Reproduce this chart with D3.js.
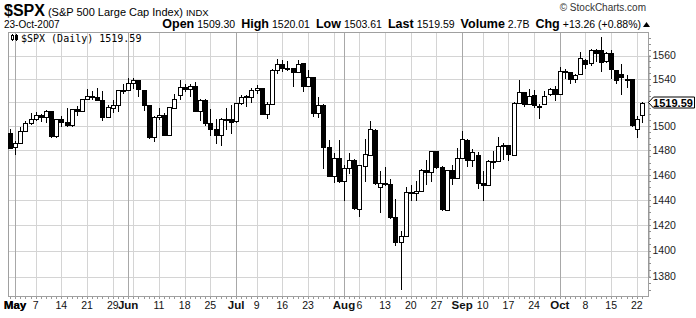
<!DOCTYPE html>
<html>
<head>
<meta charset="utf-8">
<script src="https://cdn.jsdelivr.net/npm/d3@7"></script>
<style>
  body { margin: 0; background: #fff; }
  svg { display: block; font-family: "Liberation Sans", Arial, sans-serif; }
</style>
</head>
<body>
<script>
// trading days shown, Apr 30 to Oct 23 2007
const dates = [
  "2007-04-30",
  "2007-05-01","2007-05-02","2007-05-03","2007-05-04","2007-05-07","2007-05-08","2007-05-09","2007-05-10","2007-05-11",
  "2007-05-14","2007-05-15","2007-05-16","2007-05-17","2007-05-18","2007-05-21","2007-05-22","2007-05-23","2007-05-24",
  "2007-05-25","2007-05-29","2007-05-30","2007-05-31",
  "2007-06-01","2007-06-04","2007-06-05","2007-06-06","2007-06-07","2007-06-08","2007-06-11","2007-06-12","2007-06-13",
  "2007-06-14","2007-06-15","2007-06-18","2007-06-19","2007-06-20","2007-06-21","2007-06-22","2007-06-25","2007-06-26",
  "2007-06-27","2007-06-28","2007-06-29",
  "2007-07-02","2007-07-03","2007-07-05","2007-07-06","2007-07-09","2007-07-10","2007-07-11","2007-07-12","2007-07-13",
  "2007-07-16","2007-07-17","2007-07-18","2007-07-19","2007-07-20","2007-07-23","2007-07-24","2007-07-25","2007-07-26",
  "2007-07-27","2007-07-30","2007-07-31",
  "2007-08-01","2007-08-02","2007-08-03","2007-08-06","2007-08-07","2007-08-08","2007-08-09","2007-08-10","2007-08-13",
  "2007-08-14","2007-08-15","2007-08-16","2007-08-17","2007-08-20","2007-08-21","2007-08-22","2007-08-23","2007-08-24",
  "2007-08-27","2007-08-28","2007-08-29","2007-08-30","2007-08-31",
  "2007-09-04","2007-09-05","2007-09-06","2007-09-07","2007-09-10","2007-09-11","2007-09-12","2007-09-13","2007-09-14",
  "2007-09-17","2007-09-18","2007-09-19","2007-09-20","2007-09-21","2007-09-24","2007-09-25","2007-09-26","2007-09-27",
  "2007-09-28",
  "2007-10-01","2007-10-02","2007-10-03","2007-10-04","2007-10-05","2007-10-08","2007-10-09","2007-10-10","2007-10-11",
  "2007-10-12","2007-10-15","2007-10-16","2007-10-17","2007-10-18","2007-10-19","2007-10-22","2007-10-23"
];

const opens = [
  1494.1,
  1482.4,1486.1,1495.6,1502.3,1505.6,1509.4,1507.3,1512.3,1491.5,1505.8,1503.1,1501.2,1514.0,1512.7,1522.8,1525.1,1524.1,1522.1,1507.5,1515.5,1517.6,1530.2,
  1530.6,1536.3,1539.1,1530.6,1517.4,1490.7,1507.6,1509.1,1492.6,1515.6,1526.0,1532.9,1531.0,1533.7,1512.8,1522.2,1502.6,1497.7,1492.6,1506.3,1505.7,
  1504.7,1519.1,1524.9,1524.9,1530.4,1531.8,1509.9,1518.7,1547.7,1552.5,1549.5,1549.2,1546.1,1553.2,1534.1,1541.6,1511.0,1518.0,1482.4,1458.9,1473.9,
  1455.2,1465.5,1472.2,1433.0,1467.6,1476.2,1497.2,1450.0,1453.4,1452.9,1426.2,1406.6,1411.3,1445.9,1445.6,1447.0,1464.0,1462.3,1479.4,1466.7,1432.0,1463.7,1457.6,
  1473.9,1488.8,1472.0,1476.0,1453.5,1451.7,1471.1,1471.5,1483.4,1484.2,1476.6,1519.7,1528.7,1518.8,1525.8,1516.3,1518.6,1527.3,1531.2,
  1527.3,1546.9,1545.8,1539.9,1543.8,1556.5,1553.2,1565.0,1564.7,1555.4,1562.3,1547.8,1544.4,1539.3,1540.0,1497.8,1509.3
];

const highs = [
  1497.8,
  1488.0,1499.1,1504.0,1511.0,1512.0,1510.0,1513.8,1513.0,1506.2,1508.5,1515.5,1514.6,1517.1,1522.8,1531.0,1529.2,1532.4,1529.3,1517.4,1521.8,1530.6,1535.6,
  1540.6,1540.5,1539.3,1530.8,1518.0,1508.2,1515.5,1511.3,1515.9,1526.7,1538.7,1535.4,1535.9,1537.3,1522.9,1522.4,1514.3,1506.1,1506.8,1515.5,1517.5,
  1519.6,1526.0,1526.6,1532.4,1534.3,1532.0,1520.0,1548.0,1556.7,1555.9,1555.3,1549.5,1555.9,1553.5,1547.2,1541.8,1524.3,1518.3,1488.5,1477.9,1488.3,
  1468.4,1477.5,1473.2,1467.7,1489.0,1504.0,1497.7,1463.0,1466.3,1456.7,1441.0,1415.5,1450.3,1451.8,1455.3,1464.9,1472.0,1479.4,1479.6,1466.9,1463.8,1468.4,1482.0,
  1496.4,1489.0,1481.5,1478.5,1463.0,1472.5,1479.5,1491.0,1486.0,1484.4,1520.0,1538.7,1529.1,1531.0,1530.2,1518.3,1529.4,1532.4,1533.7,
  1550.0,1548.0,1545.8,1544.0,1562.6,1556.8,1565.4,1565.4,1576.1,1563.0,1564.7,1547.8,1553.0,1542.8,1540.2,1508.1,1520.01
];

const lows = [
  1482.3,
  1476.7,1486.1,1495.6,1501.8,1505.4,1504.0,1503.8,1491.0,1491.3,1500.0,1500.4,1500.4,1509.3,1512.5,1522.5,1522.4,1521.9,1505.2,1507.5,1512.0,1512.5,1528.3,
  1530.4,1532.2,1525.6,1513.7,1490.4,1488.0,1506.0,1492.8,1492.4,1515.4,1522.9,1529.3,1525.7,1512.4,1505.0,1500.7,1493.1,1486.0,1484.2,1497.3,1494.5,
  1503.4,1518.8,1517.0,1520.5,1527.5,1510.0,1507.0,1518.5,1544.9,1546.7,1547.5,1534.0,1545.8,1529.5,1533.9,1508.6,1508.0,1465.8,1458.9,1454.3,1454.25,
  1439.6,1461.5,1432.8,1427.4,1455.0,1476.0,1453.0,1430.0,1451.5,1425.3,1404.4,1370.6,1411.3,1440.0,1439.8,1447.0,1452.9,1455.0,1465.9,1432.0,1431.8,1453.0,1457.6,
  1473.9,1466.9,1467.4,1449.1,1440.0,1451.7,1465.8,1471.5,1473.2,1472.0,1476.6,1519.5,1517.0,1518.8,1516.2,1507.1,1518.6,1525.9,1522.0,
  1527.3,1540.9,1536.6,1537.6,1543.8,1549.0,1551.8,1555.5,1547.0,1554.0,1540.8,1536.6,1527.0,1533.0,1500.3,1491.4,1503.61
];

const closes = [
  1482.37,
  1486.30,1495.92,1502.39,1505.62,1509.48,1507.72,1512.58,1491.47,1505.85,1503.15,1501.19,1514.14,1512.75,1522.75,1525.10,1524.12,1522.28,1507.51,1515.73,1518.11,1530.23,1530.62,
  1536.34,1539.18,1530.95,1517.38,1490.72,1507.67,1509.12,1493.00,1515.67,1522.97,1532.91,1531.05,1533.70,1512.84,1522.19,1502.56,1497.74,1492.89,1506.34,1505.71,1503.35,
  1519.43,1524.87,1525.40,1530.44,1531.85,1510.12,1518.76,1547.70,1552.50,1549.52,1549.37,1546.17,1553.08,1534.10,1541.57,1511.04,1518.09,1482.66,1458.95,1473.91,1455.27,
  1465.81,1472.20,1433.06,1467.67,1476.71,1497.49,1453.09,1453.64,1452.92,1426.54,1406.70,1411.27,1445.94,1445.55,1447.12,1464.07,1462.50,1479.37,1466.79,1432.36,1463.76,1457.64,1473.99,
  1489.42,1472.29,1478.55,1453.55,1451.70,1471.49,1471.56,1483.95,1484.25,1476.65,1519.78,1529.03,1518.75,1525.75,1517.73,1517.21,1525.42,1531.38,1526.75,
  1547.04,1546.63,1539.59,1542.84,1557.59,1552.58,1565.15,1562.47,1554.41,1561.80,1548.71,1538.53,1541.24,1540.08,1500.63,1506.33,1519.59
];

const priceTicks = [1380, 1400, 1420, 1440, 1460, 1480, 1500, 1520, 1540, 1560];
const monthNames = ["Jan","Feb","Mar","Apr","May","Jun","Jul","Aug","Sep","Oct","Nov","Dec"];

const W = 696, H = 318;
const plot = {left: 8, right: 648, top: 32, bottom: 296};

const svg = d3.select("body").append("svg")
  .attr("width", W).attr("height", H);

const x = d3.scalePoint().domain(dates).range([10, 642]);
const y = d3.scaleLog().domain([1380, 1560]).range([276.5, 55.5]);

const bars = dates.map((d, i) => ({
  date: d, o: opens[i], h: highs[i], l: lows[i], c: closes[i]
}));

const last = closes[closes.length - 1];
const ly = Math.round(y(last)) - 0.5;

// work out which days start a week / a month
const parse = d3.timeParse("%Y-%m-%d");
const marks = [];
dates.forEach((d, i) => {
  if (i == 0) return;
  const cur = parse(d), prev = parse(dates[i - 1]);
  const newMonth = cur.getMonth() != prev.getMonth();
  const newWeek = cur.getDay() < prev.getDay() || (cur - prev) > 3 * 864e5;
  if (newMonth || newWeek) marks.push({date: d, i: i, month: newMonth, day: cur.getDate(), m: cur.getMonth()});
});

const px = d => Math.round(x(d)) + 0.5;
const py = v => Math.round(y(v)) + 0.5;

// grid
const grid = svg.append("g").attr("shape-rendering", "crispEdges");
grid.selectAll("line.h")
  .data(priceTicks)
  .enter().append("line")
  .attr("x1", plot.left).attr("x2", plot.right)
  .attr("y1", d => py(d)).attr("y2", d => py(d))
  .attr("stroke", "#d4d4d4");

grid.selectAll("line.v")
  .data(marks)
  .enter().append("line")
  .attr("x1", d => px(d.date)).attr("x2", d => px(d.date))
  .attr("y1", plot.top).attr("y2", plot.bottom + 3)
  .attr("stroke", d => d.month ? "#a8a8a8" : "#d4d4d4");

// frame
svg.append("rect")
  .attr("x", plot.left + 0.5).attr("y", plot.top + 0.5)
  .attr("width", plot.right - plot.left).attr("height", plot.bottom - plot.top)
  .attr("fill", "none").attr("stroke", "#a0a0a0")
  .attr("shape-rendering", "crispEdges");

// small day ticks along the bottom
svg.append("g").attr("shape-rendering", "crispEdges")
  .selectAll("line")
  .data(dates)
  .enter().append("line")
  .attr("x1", d => px(d)).attr("x2", d => px(d))
  .attr("y1", plot.bottom + 1).attr("y2", plot.bottom + 3)
  .attr("stroke", "#999");

// right axis with minor ticks every 5 points; the label under the price tag is hidden
const yAxis = d3.axisRight(y)
  .tickValues(d3.range(1370, 1580, 5))
  .tickSize(2)
  .tickFormat(d => priceTicks.includes(d) && Math.abs(y(d) - ly) > 10 ? d : "");

svg.append("g")
  .attr("transform", `translate(${plot.right + 0.5},0)`)
  .call(yAxis)
  .call(g => g.select(".domain").attr("stroke", "#909090"))
  .call(g => g.selectAll(".tick line").attr("stroke", "#909090").attr("shape-rendering", "crispEdges"))
  .call(g => g.selectAll(".tick text")
    .attr("x", 4).attr("fill", "#222")
    .attr("font-family", "Liberation Sans, Arial, sans-serif")
    .attr("font-size", 10.5));

// bottom labels, weekly numbers dropped when a month name sits next to them
const labels = marks.filter(d => d.month || !marks.some(m => m.month && Math.abs(d.i - m.i) < 3 && m !== d));
svg.append("g")
  .selectAll("text")
  .data(labels)
  .enter().append("text")
  .attr("x", d => x(d.date))
  .attr("y", 309)
  .attr("text-anchor", "middle")
  .attr("font-size", d => d.month ? 11.5 : 10.5)
  .attr("font-weight", d => d.month ? "bold" : "normal")
  .attr("fill", "#111")
  .text(d => d.month ? monthNames[d.m] : d.day);

svg.append("text").attr("x", 15).attr("y", 309)
  .attr("text-anchor", "middle").attr("font-size", 11.5).attr("font-weight", "bold")
  .text("May");

// candles
const candles = svg.append("g").attr("shape-rendering", "crispEdges");
candles.selectAll("line")
  .data(bars)
  .enter().append("line")
  .attr("x1", d => px(d.date)).attr("x2", d => px(d.date))
  .attr("y1", d => Math.round(y(d.h))).attr("y2", d => Math.round(y(d.l)) + 1)
  .attr("stroke", "#000");

candles.selectAll("rect")
  .data(bars)
  .enter().append("rect")
  .attr("x", d => Math.round(x(d.date)) - 1.5)
  .attr("y", d => py(Math.max(d.o, d.c)))
  .attr("width", 4)
  .attr("height", d => Math.max(1, Math.round(y(Math.min(d.o, d.c))) - Math.round(y(Math.max(d.o, d.c)))))
  .attr("fill", d => d.c >= d.o ? "#fff" : "#000")
  .attr("stroke", "#000");

// last price tag
svg.append("path")
  .attr("d", `M${plot.right + 0.5},${ly} L${plot.right + 5.5},${ly - 5.5} L694.5,${ly - 5.5} L694.5,${ly + 5.5} L${plot.right + 5.5},${ly + 5.5} Z`)
  .attr("fill", "#fff").attr("stroke", "#000");
svg.append("text")
  .attr("x", 673).attr("y", ly + 4)
  .attr("text-anchor", "middle").attr("font-size", 11).attr("font-weight", "bold")
  .text(last.toFixed(2));

// legend inside plot
const icon = svg.append("g").attr("shape-rendering", "crispEdges");
icon.append("line").attr("x1", 12.5).attr("x2", 12.5).attr("y1", 34).attr("y2", 41).attr("stroke", "#000");
icon.append("rect").attr("x", 11.5).attr("y", 35.5).attr("width", 2).attr("height", 4).attr("fill", "#fff").attr("stroke", "#000");
icon.append("line").attr("x1", 16.5).attr("x2", 16.5).attr("y1", 34).attr("y2", 41).attr("stroke", "#000");
icon.append("rect").attr("x", 15.5).attr("y", 35.5).attr("width", 2).attr("height", 4).attr("fill", "#000").attr("stroke", "#000");
svg.append("text")
  .attr("x", 21).attr("y", 41.5)
  .attr("font-family", "DejaVu Sans Mono, monospace").attr("font-size", 10)
  .text("$SPX (Daily) " + last.toFixed(2));

// header
svg.append("text").attr("x", 4).attr("y", 16)
  .call(t => t.append("tspan").attr("font-size", 16).attr("font-weight", "bold").text("$SPX"))
  .call(t => t.append("tspan").attr("font-size", 11).attr("dx", 3).text("(S&P 500 Large Cap Index)"))
  .call(t => t.append("tspan").attr("font-size", 9.5).attr("dx", 3).text("INDX"));

svg.append("text").attr("x", 4).attr("y", 28).attr("font-size", 10).text("23-Oct-2007");

const quote = [["Open", "1509.30"], ["High", "1520.01"], ["Low", "1503.61"], ["Last", "1519.59"],
               ["Volume", "2.7B"], ["Chg", "+13.26 (+0.88%)"]];
const qt = svg.append("text").attr("x", 641).attr("y", 28).attr("text-anchor", "end");
quote.forEach((q, i) => {
  qt.append("tspan").attr("font-size", 12.5).attr("font-weight", "bold").attr("dx", i ? 6 : 0).text(q[0]);
  qt.append("tspan").attr("font-size", 10.5).attr("dx", 3).text(q[1]);
});
svg.append("path").attr("d", "M643,27 L650,27 L646.5,22 Z").attr("fill", "#000");

svg.append("text").attr("x", 646).attr("y", 11)
  .attr("text-anchor", "end").attr("font-size", 10).attr("fill", "#333")
  .text("© StockCharts.com");
</script>
</body>
</html>
